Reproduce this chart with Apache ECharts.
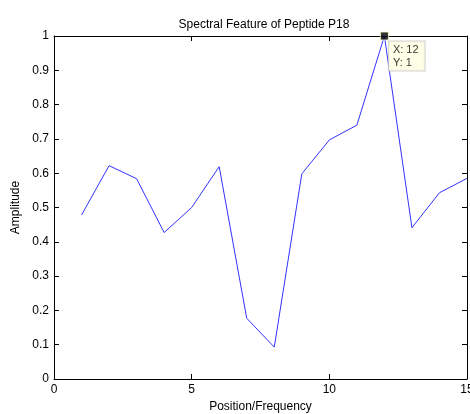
<!DOCTYPE html>
<html>
<head>
<meta charset="utf-8">
<script src="https://cdn.jsdelivr.net/npm/echarts@6/dist/echarts.min.js"></script>
<style>
  html, body { margin: 0; padding: 0; background: #ffffff; }
  #chart { width: 470px; height: 414px; }
</style>
</head>
<body>
<div id="chart"></div>
<script>
// Spectral amplitude at each position/frequency
const positions = [1, 2, 3, 4, 5, 6, 7, 8, 9, 10, 11, 12, 13, 14, 15];
const amplitudes = [0.478, 0.622, 0.584, 0.427, 0.500, 0.619, 0.177, 0.093, 0.598, 0.697, 0.740, 1.000, 0.441, 0.543, 0.585];
// Highlighted data cursor
const cursorX = 12;
const cursorY = 1;

const FONT = '"Liberation Sans", Arial, sans-serif';
const lineData = positions.map((p, i) => [p, amplitudes[i]]);

const chart = echarts.init(document.getElementById('chart'));

const tickStyle = { show: true, inside: true, length: 5, lineStyle: { color: '#000', width: 1 } };
const axisLine = { show: true, onZero: false, lineStyle: { color: '#000', width: 1 } };

chart.setOption({
  animation: false,
  backgroundColor: '#ffffff',
  title: {
    text: 'Spectral Feature of Peptide P18',
    left: 259, top: 14, textAlign: 'center',
    textStyle: { fontFamily: FONT, fontSize: 12, fontWeight: 'normal', color: '#000' }
  },
  grid: { left: 54, right: 3, top: 36, bottom: 35, outerBoundsMode: 'none', containLabel: false },
  xAxis: [{
    type: 'value', min: 0, max: 15, interval: 5,
    name: 'Position/Frequency', nameLocation: 'middle', nameGap: 22,
    nameTextStyle: { fontFamily: FONT, fontSize: 12, color: '#000' },
    axisLine: axisLine, axisTick: tickStyle,
    axisLabel: { fontFamily: FONT, fontSize: 12, color: '#000', margin: 5 },
    splitLine: { show: false }
  }, {
    type: 'value', min: 0, max: 15, interval: 5, position: 'top',
    axisLine: axisLine, axisTick: tickStyle,
    axisLabel: { show: false }, splitLine: { show: false }
  }],
  yAxis: [{
    type: 'value', min: 0, max: 1, interval: 0.1,
    name: 'Amplitude', nameLocation: 'middle', nameGap: 29,
    nameTextStyle: { fontFamily: FONT, fontSize: 12, color: '#000' },
    axisLine: axisLine, axisTick: tickStyle,
    axisLabel: { fontFamily: FONT, fontSize: 12, color: '#000', margin: 5,
      formatter: v => String(Math.round(v * 10) / 10) },
    splitLine: { show: false }
  }, {
    type: 'value', min: 0, max: 1, interval: 0.1, position: 'right',
    axisLine: axisLine, axisTick: tickStyle,
    axisLabel: { show: false }, splitLine: { show: false }
  }],
  series: [{
    type: 'line',
    data: lineData,
    showSymbol: false,
    lineStyle: { color: '#3333ff', width: 1 },
    z: 2
  }, {
    type: 'scatter',
    data: [[cursorX, cursorY]],
    symbol: 'rect',
    symbolSize: 8,
    itemStyle: { color: '#000', borderColor: '#ffffcc', borderWidth: 1 },
    label: {
      show: true,
      position: [9, 10],
      formatter: p => 'X: ' + p.value[0] + '\nY: ' + p.value[1],
      fontFamily: FONT, fontSize: 11, lineHeight: 13, color: '#000',
      backgroundColor: '#ffffe1', borderColor: '#c8c8c8', borderWidth: 1,
      padding: [2, 6, 1, 4], align: 'left', verticalAlign: 'top'
    },
    z: 5
  }]
});
</script>
</body>
</html>
